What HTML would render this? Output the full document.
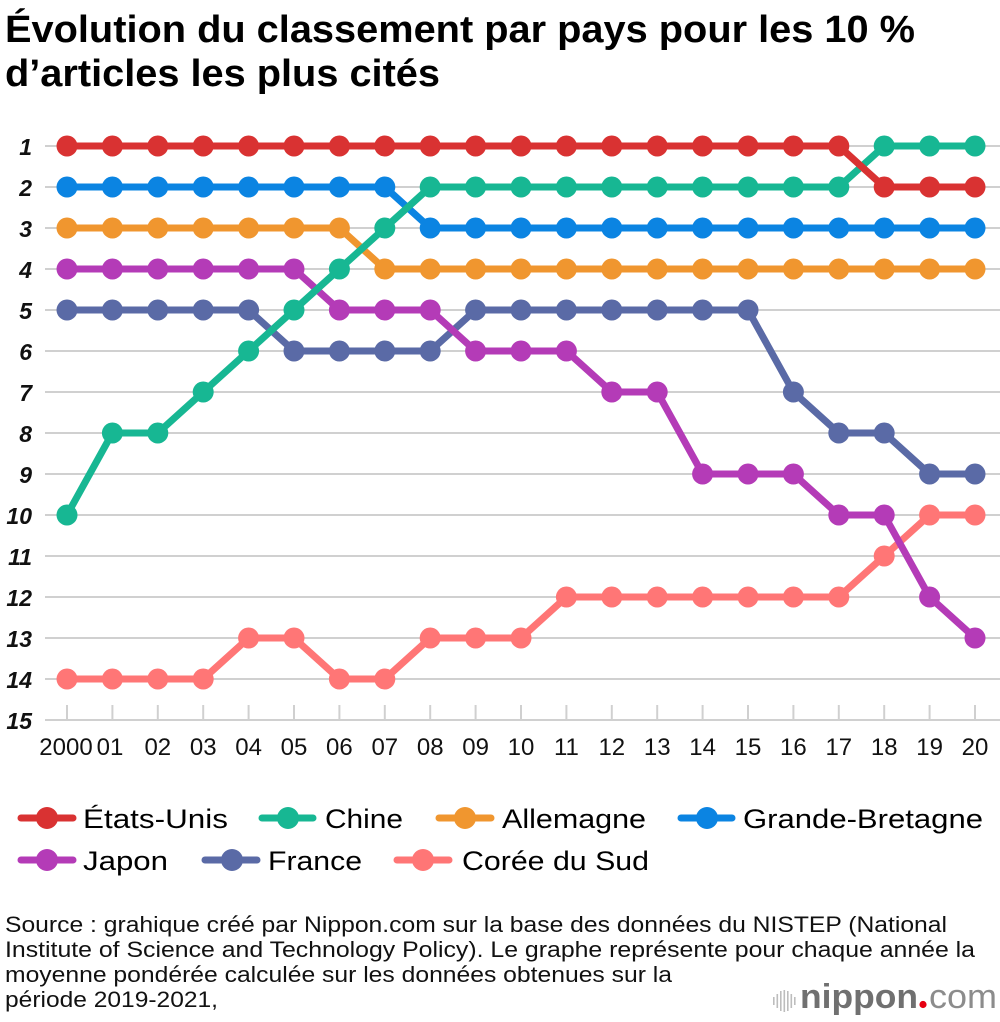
<!DOCTYPE html>
<html>
<head>
<meta charset="utf-8">
<style>
html,body{margin:0;padding:0;background:#fff;}
svg{display:block;}
text{font-family:"Liberation Sans",Arial,Helvetica,sans-serif;}
</style>
</head>
<body>
<svg width="1000" height="1022" viewBox="0 0 1000 1022" xmlns="http://www.w3.org/2000/svg">
<defs>
<marker id="mR" markerUnits="userSpaceOnUse" markerWidth="24" markerHeight="24" refX="12" refY="12" viewBox="0 0 24 24"><circle cx="12" cy="12" r="10.5" fill="#d93232"/></marker>
<marker id="mG" markerUnits="userSpaceOnUse" markerWidth="24" markerHeight="24" refX="12" refY="12" viewBox="0 0 24 24"><circle cx="12" cy="12" r="10.5" fill="#17b793"/></marker>
<marker id="mO" markerUnits="userSpaceOnUse" markerWidth="24" markerHeight="24" refX="12" refY="12" viewBox="0 0 24 24"><circle cx="12" cy="12" r="10.5" fill="#f0962f"/></marker>
<marker id="mB" markerUnits="userSpaceOnUse" markerWidth="24" markerHeight="24" refX="12" refY="12" viewBox="0 0 24 24"><circle cx="12" cy="12" r="10.5" fill="#0b84e2"/></marker>
<marker id="mP" markerUnits="userSpaceOnUse" markerWidth="24" markerHeight="24" refX="12" refY="12" viewBox="0 0 24 24"><circle cx="12" cy="12" r="10.5" fill="#b43bb7"/></marker>
<marker id="mF" markerUnits="userSpaceOnUse" markerWidth="24" markerHeight="24" refX="12" refY="12" viewBox="0 0 24 24"><circle cx="12" cy="12" r="10.5" fill="#5a6aa6"/></marker>
<marker id="mK" markerUnits="userSpaceOnUse" markerWidth="24" markerHeight="24" refX="12" refY="12" viewBox="0 0 24 24"><circle cx="12" cy="12" r="10.5" fill="#ff7676"/></marker>
</defs>

<!-- Title -->
<text x="5" y="42" font-size="38" font-weight="bold" fill="#000" textLength="910" lengthAdjust="spacingAndGlyphs">Évolution du classement par pays pour les 10 %</text>
<text x="5" y="86" font-size="38" font-weight="bold" fill="#000" textLength="435" lengthAdjust="spacingAndGlyphs">d’articles les plus cités</text>

<!-- Gridlines -->
<g stroke="#d0d0d0" stroke-width="2">
<line x1="45" y1="146" x2="1000" y2="146"/>
<line x1="45" y1="187" x2="1000" y2="187"/>
<line x1="45" y1="228" x2="1000" y2="228"/>
<line x1="45" y1="269" x2="1000" y2="269"/>
<line x1="45" y1="310" x2="1000" y2="310"/>
<line x1="45" y1="351" x2="1000" y2="351"/>
<line x1="45" y1="392" x2="1000" y2="392"/>
<line x1="45" y1="433" x2="1000" y2="433"/>
<line x1="45" y1="474" x2="1000" y2="474"/>
<line x1="45" y1="515" x2="1000" y2="515"/>
<line x1="45" y1="556" x2="1000" y2="556"/>
<line x1="45" y1="597" x2="1000" y2="597"/>
<line x1="45" y1="638" x2="1000" y2="638"/>
<line x1="45" y1="679" x2="1000" y2="679"/>
<line x1="45" y1="720" x2="1000" y2="720"/>
</g>
<!-- ticks -->
<g stroke="#d0d0d0" stroke-width="2">
<line x1="67" y1="705" x2="67" y2="720"/>
<line x1="112.4" y1="705" x2="112.4" y2="720"/>
<line x1="157.8" y1="705" x2="157.8" y2="720"/>
<line x1="203.2" y1="705" x2="203.2" y2="720"/>
<line x1="248.6" y1="705" x2="248.6" y2="720"/>
<line x1="294" y1="705" x2="294" y2="720"/>
<line x1="339.4" y1="705" x2="339.4" y2="720"/>
<line x1="384.8" y1="705" x2="384.8" y2="720"/>
<line x1="430.2" y1="705" x2="430.2" y2="720"/>
<line x1="475.6" y1="705" x2="475.6" y2="720"/>
<line x1="521" y1="705" x2="521" y2="720"/>
<line x1="566.4" y1="705" x2="566.4" y2="720"/>
<line x1="611.8" y1="705" x2="611.8" y2="720"/>
<line x1="657.2" y1="705" x2="657.2" y2="720"/>
<line x1="702.6" y1="705" x2="702.6" y2="720"/>
<line x1="748" y1="705" x2="748" y2="720"/>
<line x1="793.4" y1="705" x2="793.4" y2="720"/>
<line x1="838.8" y1="705" x2="838.8" y2="720"/>
<line x1="884.2" y1="705" x2="884.2" y2="720"/>
<line x1="929.6" y1="705" x2="929.6" y2="720"/>
<line x1="975" y1="705" x2="975" y2="720"/>
</g>

<!-- Y labels -->
<g font-size="23" font-weight="bold" font-style="italic" fill="#111" text-anchor="end">
<text x="32" y="155">1</text>
<text x="32" y="196">2</text>
<text x="32" y="237">3</text>
<text x="32" y="278">4</text>
<text x="32" y="319">5</text>
<text x="32" y="360">6</text>
<text x="32" y="401">7</text>
<text x="32" y="442">8</text>
<text x="32" y="483">9</text>
<text x="32" y="524">10</text>
<text x="32" y="565">11</text>
<text x="32" y="606">12</text>
<text x="32" y="647">13</text>
<text x="32" y="688">14</text>
<text x="32" y="729">15</text>
</g>

<!-- X labels -->
<g font-size="24" fill="#111" text-anchor="middle">
<text x="66" y="755">2000</text>
<text x="110" y="755">01</text>
<text x="157.8" y="755">02</text>
<text x="203.2" y="755">03</text>
<text x="248.6" y="755">04</text>
<text x="294" y="755">05</text>
<text x="339.4" y="755">06</text>
<text x="384.8" y="755">07</text>
<text x="430.2" y="755">08</text>
<text x="475.6" y="755">09</text>
<text x="521" y="755">10</text>
<text x="566.4" y="755">11</text>
<text x="611.8" y="755">12</text>
<text x="657.2" y="755">13</text>
<text x="702.6" y="755">14</text>
<text x="748" y="755">15</text>
<text x="793.4" y="755">16</text>
<text x="838.8" y="755">17</text>
<text x="884.2" y="755">18</text>
<text x="929.6" y="755">19</text>
<text x="975" y="755">20</text>
</g>

<!-- Series -->
<g fill="none" stroke-width="7" stroke-linejoin="round" stroke-linecap="round">
<polyline stroke="#ff7676" marker-start="url(#mK)" marker-mid="url(#mK)" marker-end="url(#mK)" points="67,679 112.4,679 157.8,679 203.2,679 248.6,638 294,638 339.4,679 384.8,679 430.2,638 475.6,638 521,638 566.4,597 611.8,597 657.2,597 702.6,597 748,597 793.4,597 838.8,597 884.2,556 929.6,515 975,515"/>
<polyline stroke="#5a6aa6" marker-start="url(#mF)" marker-mid="url(#mF)" marker-end="url(#mF)" points="67,310 112.4,310 157.8,310 203.2,310 248.6,310 294,351 339.4,351 384.8,351 430.2,351 475.6,310 521,310 566.4,310 611.8,310 657.2,310 702.6,310 748,310 793.4,392 838.8,433 884.2,433 929.6,474 975,474"/>
<polyline stroke="#b43bb7" marker-start="url(#mP)" marker-mid="url(#mP)" marker-end="url(#mP)" points="67,269 112.4,269 157.8,269 203.2,269 248.6,269 294,269 339.4,310 384.8,310 430.2,310 475.6,351 521,351 566.4,351 611.8,392 657.2,392 702.6,474 748,474 793.4,474 838.8,515 884.2,515 929.6,597 975,638"/>
<polyline stroke="#0b84e2" marker-start="url(#mB)" marker-mid="url(#mB)" marker-end="url(#mB)" points="67,187 112.4,187 157.8,187 203.2,187 248.6,187 294,187 339.4,187 384.8,187 430.2,228 475.6,228 521,228 566.4,228 611.8,228 657.2,228 702.6,228 748,228 793.4,228 838.8,228 884.2,228 929.6,228 975,228"/>
<polyline stroke="#f0962f" marker-start="url(#mO)" marker-mid="url(#mO)" marker-end="url(#mO)" points="67,228 112.4,228 157.8,228 203.2,228 248.6,228 294,228 339.4,228 384.8,269 430.2,269 475.6,269 521,269 566.4,269 611.8,269 657.2,269 702.6,269 748,269 793.4,269 838.8,269 884.2,269 929.6,269 975,269"/>
<polyline stroke="#17b793" marker-start="url(#mG)" marker-mid="url(#mG)" marker-end="url(#mG)" points="67,515 112.4,433 157.8,433 203.2,392 248.6,351 294,310 339.4,269 384.8,228 430.2,187 475.6,187 521,187 566.4,187 611.8,187 657.2,187 702.6,187 748,187 793.4,187 838.8,187 884.2,146 929.6,146 975,146"/>
<polyline stroke="#d93232" marker-start="url(#mR)" marker-mid="url(#mR)" marker-end="url(#mR)" points="67,146 112.4,146 157.8,146 203.2,146 248.6,146 294,146 339.4,146 384.8,146 430.2,146 475.6,146 521,146 566.4,146 611.8,146 657.2,146 702.6,146 748,146 793.4,146 838.8,146 884.2,187 929.6,187 975,187"/>
</g>

<!-- Legend -->
<g stroke-width="7" stroke-linecap="round">
<line x1="21" y1="818" x2="73" y2="818" stroke="#d93232"/>
<line x1="262" y1="818" x2="313" y2="818" stroke="#17b793"/>
<line x1="439" y1="818" x2="491" y2="818" stroke="#f0962f"/>
<line x1="681" y1="818" x2="732" y2="818" stroke="#0b84e2"/>
<line x1="21" y1="860" x2="73" y2="860" stroke="#b43bb7"/>
<line x1="205" y1="860" x2="257" y2="860" stroke="#5a6aa6"/>
<line x1="397" y1="860" x2="449" y2="860" stroke="#ff7676"/>
</g>
<circle cx="47" cy="818" r="11" fill="#d93232"/>
<circle cx="288" cy="818" r="11" fill="#17b793"/>
<circle cx="465" cy="818" r="11" fill="#f0962f"/>
<circle cx="707" cy="818" r="11" fill="#0b84e2"/>
<circle cx="47" cy="860" r="11" fill="#b43bb7"/>
<circle cx="232" cy="860" r="11" fill="#5a6aa6"/>
<circle cx="423" cy="860" r="11" fill="#ff7676"/>
<g font-size="27" fill="#000">
<text x="83" y="828" textLength="145" lengthAdjust="spacingAndGlyphs">États-Unis</text>
<text x="325" y="828" textLength="78" lengthAdjust="spacingAndGlyphs">Chine</text>
<text x="502" y="828" textLength="144" lengthAdjust="spacingAndGlyphs">Allemagne</text>
<text x="743" y="828" textLength="240" lengthAdjust="spacingAndGlyphs">Grande-Bretagne</text>
<text x="83" y="870" textLength="85" lengthAdjust="spacingAndGlyphs">Japon</text>
<text x="268" y="870" textLength="94" lengthAdjust="spacingAndGlyphs">France</text>
<text x="462" y="870" textLength="187" lengthAdjust="spacingAndGlyphs">Corée du Sud</text>
</g>

<!-- Source -->
<g font-size="22" fill="#111">
<text x="5" y="932" textLength="942" lengthAdjust="spacingAndGlyphs">Source : grahique créé par Nippon.com sur la base des données du NISTEP (National</text>
<text x="5" y="957" textLength="970" lengthAdjust="spacingAndGlyphs">Institute of Science and Technology Policy). Le graphe représente pour chaque année la</text>
<text x="5" y="982" textLength="667" lengthAdjust="spacingAndGlyphs">moyenne pondérée calculée sur les données obtenues sur la</text>
<text x="5" y="1007" textLength="213" lengthAdjust="spacingAndGlyphs">période 2019-2021,</text>
</g>

<!-- Logo -->
<g fill="#bdbdbd">
<rect x="773" y="997" width="1.6" height="8"/>
<rect x="776.5" y="994" width="1.6" height="14"/>
<rect x="780" y="991" width="1.6" height="20"/>
<rect x="783.5" y="990" width="1.6" height="22"/>
<rect x="787" y="991" width="1.6" height="20"/>
<rect x="790.5" y="994" width="1.6" height="14"/>
<rect x="794" y="997" width="1.6" height="8"/>
</g>
<text x="800" y="1008" font-size="34" font-weight="bold" fill="#707070" textLength="118" lengthAdjust="spacingAndGlyphs">nippon</text>
<circle cx="923" cy="1004.5" r="3.6" fill="#e60012"/>
<text x="929" y="1008" font-size="34" fill="#8c8c8c" textLength="68" lengthAdjust="spacingAndGlyphs">com</text>
</svg>
</body>
</html>
